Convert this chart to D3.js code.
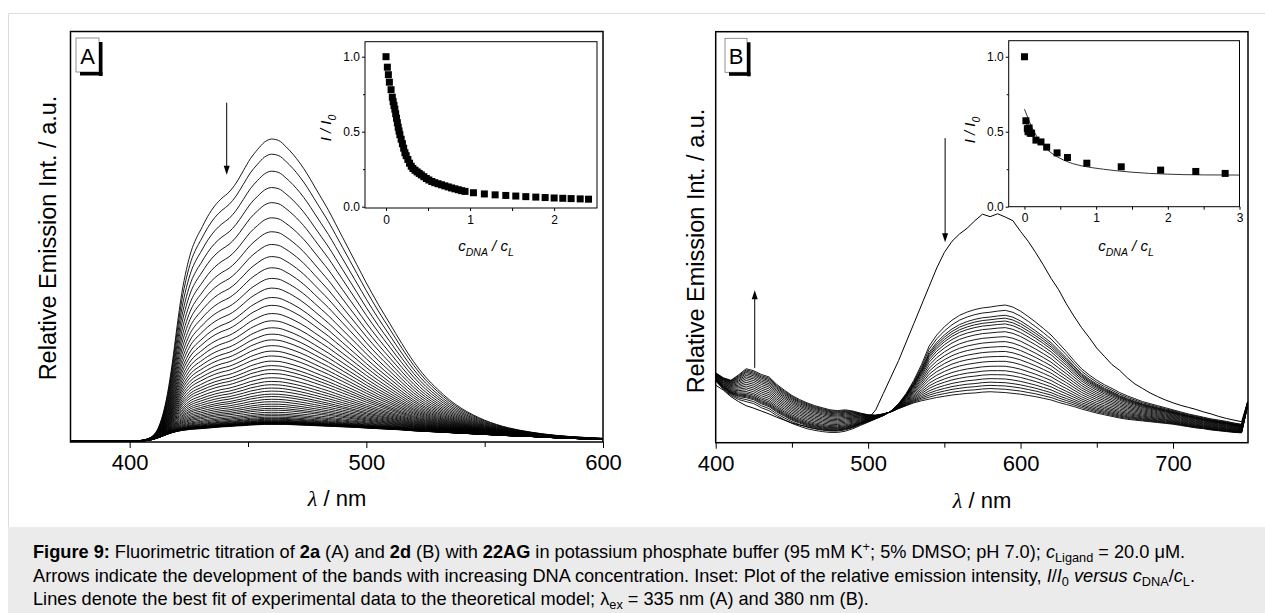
<!DOCTYPE html>
<html><head><meta charset="utf-8">
<script src="https://cdn.jsdelivr.net/npm/d3@7"></script>
<style>
body{margin:0;background:#fff;}
svg{display:block;font-family:"Liberation Sans",Arial,sans-serif;}
</style></head><body>
<svg id="chart" width="1265" height="613"></svg>
<script>
// ---------------- Panel A data (2a) ----------------
const waveA = [375,380,385,390,395,400,403,406,408,410,412,414,416,418,420,422,424,426,428,430,433,436,439,442,445,448,451,454,457,460,463,466,469,472,475,478,481,484,487,490,493,496,500,505,510,515,520,525,530,535,540,545,550,555,560,570,580,590,600];
// spectrum before DNA addition (top curve)
const freeA = [0.003,0.003,0.003,0.003,0.003,0.003,0.004,0.007,0.012,0.022,0.045,0.09,0.16,0.26,0.38,0.49,0.57,0.63,0.67,0.70,0.745,0.78,0.805,0.825,0.855,0.895,0.935,0.965,0.99,1.0,0.995,0.975,0.95,0.92,0.885,0.845,0.805,0.765,0.72,0.675,0.63,0.585,0.525,0.455,0.39,0.325,0.265,0.215,0.175,0.14,0.112,0.09,0.072,0.058,0.047,0.032,0.022,0.016,0.012];
// spectrum at end of titration (lowest curve)
const boundA = [0.003,0.003,0.003,0.003,0.003,0.003,0.003,0.004,0.006,0.009,0.014,0.02,0.026,0.031,0.035,0.038,0.04,0.042,0.043,0.044,0.046,0.048,0.05,0.051,0.053,0.054,0.056,0.057,0.058,0.058,0.058,0.058,0.057,0.056,0.055,0.054,0.053,0.052,0.051,0.05,0.049,0.048,0.046,0.044,0.042,0.04,0.037,0.035,0.033,0.031,0.029,0.027,0.025,0.023,0.021,0.018,0.014,0.011,0.008];
// peak intensity (at 460 nm) of each titration spectrum
const peakA = [1.0,0.95,0.894,0.84,0.79,0.74,0.694,0.652,0.612,0.575,0.54,0.508,0.477,0.451,0.424,0.4,0.377,0.356,0.337,0.318,0.3,0.284,0.267,0.252,0.239,0.226,0.212,0.2,0.189,0.178,0.168,0.158,0.15,0.141,0.133,0.125,0.118,0.111,0.105,0.098,0.092,0.087,0.082,0.078,0.075,0.072,0.07,0.068,0.066,0.065,0.064,0.063,0.062,0.061,0.06,0.059,0.058];
// inset A: I/I0 vs cDNA/cL
const insetAx = [0,0.016,0.028,0.04,0.06,0.075,0.085,0.095,0.105,0.115,0.125,0.135,0.145,0.155,0.165,0.18,0.195,0.21,0.225,0.24,0.26,0.28,0.3,0.32,0.345,0.37,0.395,0.42,0.45,0.48,0.51,0.545,0.58,0.62,0.66,0.7,0.74,0.78,0.82,0.86,0.9,0.94,1.04,1.17,1.298,1.425,1.544,1.663,1.782,1.893,2.0,2.103,2.202,2.31,2.409];
const insetAy = [1.0,0.93,0.88,0.83,0.78,0.73,0.7,0.675,0.65,0.62,0.59,0.56,0.53,0.505,0.48,0.45,0.42,0.39,0.36,0.34,0.315,0.29,0.27,0.255,0.243,0.232,0.222,0.212,0.2,0.188,0.178,0.168,0.16,0.153,0.146,0.139,0.132,0.125,0.119,0.113,0.107,0.102,0.093,0.085,0.079,0.075,0.071,0.067,0.064,0.061,0.058,0.056,0.054,0.052,0.05];

// ---------------- Panel B data (2d) ----------------
const waveB = [400,405,410,415,420,425,430,435,440,445,450,455,460,465,470,475,480,485,490,495,500,505,510,515,520,525,530,535,540,545,550,555,560,565,570,575,580,585,590,595,600,605,610,615,620,625,630,635,640,645,650,655,660,665,670,675,680,685,690,695,700,705,710,715,720,725,730,735,740,745,749];
const freeB = [0.14,0.128,0.112,0.1,0.09,0.084,0.077,0.07,0.062,0.055,0.048,0.043,0.039,0.035,0.032,0.03,0.03,0.033,0.038,0.046,0.058,0.08,0.12,0.16,0.2,0.245,0.29,0.335,0.38,0.425,0.463,0.49,0.508,0.522,0.54,0.556,0.55,0.557,0.549,0.54,0.514,0.49,0.462,0.432,0.4,0.372,0.338,0.308,0.28,0.256,0.23,0.21,0.19,0.176,0.158,0.143,0.132,0.121,0.112,0.104,0.097,0.091,0.086,0.081,0.075,0.07,0.064,0.059,0.055,0.051,0.1];
const earlyB = [0.15,0.13,0.115,0.105,0.1,0.095,0.085,0.078,0.066,0.056,0.047,0.04,0.034,0.03,0.027,0.025,0.025,0.028,0.034,0.042,0.05,0.058,0.066,0.077,0.095,0.12,0.152,0.19,0.235,0.262,0.282,0.298,0.31,0.318,0.324,0.328,0.33,0.333,0.335,0.33,0.32,0.307,0.293,0.278,0.262,0.242,0.222,0.2,0.18,0.165,0.152,0.141,0.132,0.122,0.114,0.107,0.1,0.095,0.09,0.085,0.08,0.075,0.07,0.066,0.062,0.058,0.055,0.052,0.048,0.045,0.1];
const lateB = [0.17,0.158,0.152,0.165,0.18,0.175,0.166,0.16,0.142,0.128,0.115,0.105,0.097,0.09,0.085,0.08,0.078,0.08,0.077,0.072,0.068,0.067,0.07,0.075,0.083,0.09,0.097,0.102,0.106,0.11,0.113,0.116,0.118,0.12,0.121,0.123,0.124,0.123,0.122,0.12,0.118,0.115,0.112,0.108,0.104,0.098,0.093,0.088,0.082,0.077,0.072,0.068,0.064,0.06,0.057,0.055,0.053,0.051,0.049,0.047,0.045,0.042,0.039,0.036,0.034,0.031,0.029,0.027,0.025,0.024,0.09];
// intensity at 590 nm of each DNA-containing spectrum
const peakB = [0.335,0.322,0.31,0.303,0.296,0.289,0.28,0.27,0.258,0.246,0.234,0.222,0.21,0.198,0.186,0.175,0.165,0.155,0.146,0.138,0.13,0.122];
// inset B
const insetBx = [0.0,0.02,0.04,0.05,0.065,0.08,0.1,0.16,0.23,0.31,0.455,0.6,0.87,1.35,1.9,2.39,2.8];
const insetBy = [1.0,0.573,0.52,0.5,0.525,0.49,0.49,0.444,0.432,0.397,0.359,0.328,0.29,0.266,0.244,0.235,0.222];
const fitBx = [0,0.05,0.103,0.17,0.244,0.33,0.431,0.55,0.666,0.8,0.947,1.1,1.275,1.5,1.744,2.0,2.213,2.5,3.0];
const fitBy = [0.65,0.59,0.528,0.47,0.417,0.375,0.339,0.31,0.288,0.272,0.26,0.25,0.24,0.23,0.222,0.217,0.214,0.212,0.211];

// axis tick values
const ticksA = [400,500,600], minorA = [450,550];
const ticksB = [400,500,600,700], minorB = [450,550,650];

const FONT = '"Liberation Sans",Arial,sans-serif';
const svg = d3.select("#chart");

// ---------- page frame & caption background ----------
svg.append("rect").attr("width",1265).attr("height",613).attr("fill","#fff");
svg.append("path").attr("d","M8.5,527 V13.5 H1265").attr("fill","none").attr("stroke","#dcdcdc").attr("stroke-width",1);
svg.append("rect").attr("x",8).attr("y",527).attr("width",1257).attr("height",86).attr("fill","#ebebeb");

function richText(parent,x,y,segs,fs,opts){
  opts=opts||{};
  const subK=opts.subK||0.32;
  const t=parent.append("text").attr("x",x).attr("y",y).attr("font-size",fs).attr("fill","#000")
    .attr("font-family",FONT).attr("text-anchor",opts.anchor||"start");
  if(opts.italic) t.attr("font-style","italic");
  let shift=0;
  segs.forEach(s=>{
    const sp=t.append("tspan").text(s.t);
    const target=s.sub?fs*subK:(s.sup?-fs*0.38:0);
    if(target!==shift){sp.attr("dy",target-shift);shift=target;}
    if(s.sub||s.sup) sp.attr("font-size",fs*0.7);
    if(s.b) sp.attr("font-weight","bold");
    if(s.i) sp.attr("font-style","italic");
    if(s.f) sp.attr("font-family",s.f);
  });
  return t;
}

function styleAxis(sel,fs){
  sel.select(".domain").remove();
  sel.selectAll(".tick line").attr("stroke","#000").attr("stroke-width",1);
  sel.selectAll(".tick text").attr("font-size",fs).attr("font-family",FONT).attr("fill","#000");
}

function arrow(g,x,y1,y2){
  const dir = y2>y1?1:-1;
  g.append("line").attr("x1",x).attr("x2",x).attr("y1",y1).attr("y2",y2-dir*6).attr("stroke","#000").attr("stroke-width",1);
  g.append("path").attr("d",`M${x},${y2} L${x-3},${y2-dir*9} L${x+3},${y2-dir*9} Z`).attr("fill","#000");
}

function labelBox(x0,y0,w,h,txt){
  svg.append("rect").attr("x",x0).attr("y",y0).attr("width",w).attr("height",h).attr("fill","#fff").attr("stroke","#777").attr("stroke-width",0.8);
  svg.append("rect").attr("x",x0+w).attr("y",y0+4).attr("width",3.5).attr("height",h).attr("fill","#000");
  svg.append("rect").attr("x",x0+4).attr("y",y0+h).attr("width",w-0.5).attr("height",3.5).attr("fill","#000");
  svg.append("text").attr("x",x0+w/2).attr("y",y0+25.5).attr("text-anchor","middle").attr("font-size",22).attr("font-family",FONT).text(txt);
}

// ================= PANEL A =================
const xA=d3.scaleLinear().domain([375,600]).range([70.5,603]);
const yA=d3.scaleLinear().domain([0,1.355]).range([442,31.5]);
svg.append("clipPath").attr("id","clipA").append("rect").attr("x",70.5).attr("y",31.5).attr("width",532.5).attr("height",410.5);
const gA=svg.append("g").attr("clip-path","url(#clipA)");
const lineA=d3.line().x((d,i)=>xA(waveA[i])).y(d=>yA(d)).curve(d3.curveMonotoneX);
const boundPeakA=d3.max(boundA), freePeakA=d3.max(freeA);
peakA.forEach(p=>{
  const a=(p-boundPeakA)/(freePeakA-boundPeakA);
  const vals=freeA.map((f,i)=>a*f+(1-a)*boundA[i]);
  gA.append("path").attr("d",lineA(vals)).attr("fill","none").attr("stroke","#000").attr("stroke-width",0.9);
});
svg.append("g").attr("transform","translate(0,442)").call(d3.axisBottom(xA).tickValues(ticksA).tickSize(6).tickPadding(6).tickFormat(d3.format("d"))).call(s=>styleAxis(s,22));
svg.append("g").attr("transform","translate(0,442)").call(d3.axisBottom(xA).tickValues(minorA).tickSize(5).tickFormat("")).call(s=>styleAxis(s,22));
svg.append("rect").attr("x",70.5).attr("y",31.5).attr("width",532.5).attr("height",410.5).attr("fill","none").attr("stroke","#000").attr("stroke-width",1.5);
svg.append("text").attr("transform","translate(56,238) rotate(-90)").attr("text-anchor","middle").attr("font-size",23.5).attr("font-family",FONT).text("Relative Emission Int. / a.u.");
richText(svg,337,506,[{t:"λ",i:1,f:'"Liberation Serif",serif'},{t:" / nm"}],22,{anchor:"middle"});
arrow(svg,xA(441),yA(1.12),yA(0.882));
labelBox(76,38,23,34,"A");

// inset A
const ixA=d3.scaleLinear().domain([-0.25,2.51]).range([365,597]);
const iyA=d3.scaleLinear().domain([-0.0087,1.1]).range([208,41.7]);
svg.append("rect").attr("x",365).attr("y",41.7).attr("width",232).attr("height",166.3).attr("fill","#fff");
svg.append("g").attr("transform","translate(0,208)").call(d3.axisBottom(ixA).tickValues([0,1,2]).tickSize(3).tickPadding(4).tickFormat(d3.format("d"))).call(s=>styleAxis(s,12));
svg.append("g").attr("transform","translate(0,208)").call(d3.axisBottom(ixA).tickValues([0.5,1.5]).tickSize(3).tickFormat("")).call(s=>styleAxis(s,12));
svg.append("g").attr("transform","translate(365,0)").call(d3.axisLeft(iyA).tickValues([0,0.5,1]).tickSize(3).tickPadding(2).tickFormat(d3.format(".1f"))).call(s=>styleAxis(s,12));
svg.append("g").attr("transform","translate(365,0)").call(d3.axisLeft(iyA).tickValues([0.25,0.75]).tickSize(2).tickFormat("")).call(s=>styleAxis(s,12));
svg.append("g").selectAll("rect").data(insetAx).join("rect")
  .attr("x",(d)=>ixA(d)-3.5).attr("y",(d,i)=>iyA(insetAy[i])-3.5).attr("width",7).attr("height",7).attr("fill","#000");
svg.append("rect").attr("x",365).attr("y",41.7).attr("width",232).attr("height",166.3).attr("fill","none").attr("stroke","#000").attr("stroke-width",1);
richText(svg,486,251,[{t:"c"},{t:"DNA",sub:1},{t:" / c"},{t:"L",sub:1}],15,{anchor:"middle",italic:true});
richText(svg.append("g").attr("transform","translate(331,128) rotate(-90)"),0,0,[{t:"I / I"},{t:"0",sub:1}],15,{anchor:"middle",italic:true});

// ================= PANEL B =================
const xB=d3.scaleLinear().domain([400,749.2]).range([715.7,1248]);
const yB=d3.scaleLinear().domain([0,1]).range([442.7,31.7]);
svg.append("clipPath").attr("id","clipB").append("rect").attr("x",715.7).attr("y",31.7).attr("width",532.3).attr("height",411);
const gB=svg.append("g").attr("clip-path","url(#clipB)");
const lineB=d3.line().x((d,i)=>xB(waveB[i])).y(d=>yB(d));
const iRef=waveB.indexOf(590);
const pE=earlyB[iRef], pL=lateB[iRef];
peakB.forEach(p=>{
  const b=(p-pL)/(pE-pL);
  const vals=earlyB.map((e,i)=>b*e+(1-b)*lateB[i]);
  gB.append("path").attr("d",lineB(vals)).attr("fill","none").attr("stroke","#000").attr("stroke-width",0.9);
});
gB.append("path").attr("d",lineB(freeB)).attr("fill","none").attr("stroke","#000").attr("stroke-width",1);
svg.append("g").attr("transform","translate(0,442.7)").call(d3.axisBottom(xB).tickValues(ticksB).tickSize(6).tickPadding(7).tickFormat(d3.format("d"))).call(s=>styleAxis(s,22));
svg.append("g").attr("transform","translate(0,442.7)").call(d3.axisBottom(xB).tickValues(minorB).tickSize(5).tickFormat("")).call(s=>styleAxis(s,22));
svg.append("rect").attr("x",715.7).attr("y",31.7).attr("width",532.3).attr("height",411).attr("fill","none").attr("stroke","#000").attr("stroke-width",1.5);
svg.append("text").attr("transform","translate(704,251) rotate(-90)").attr("text-anchor","middle").attr("font-size",23.5).attr("font-family",FONT).text("Relative Emission Int. / a.u.");
richText(svg,982,508,[{t:"λ",i:1,f:'"Liberation Serif",serif'},{t:" / nm"}],22,{anchor:"middle"});
arrow(svg,xB(550.5),yB(0.741),yB(0.488));
arrow(svg,xB(425.6),yB(0.182),yB(0.371));
labelBox(725,38.3,22,34,"B");

// inset B
const ixB=d3.scaleLinear().domain([-0.22,3.0]).range([1008.7,1239.5]);
const iyB=d3.scaleLinear().domain([0,1.107]).range([206.7,40.7]);
svg.append("rect").attr("x",1008.7).attr("y",40.7).attr("width",230.8).attr("height",166).attr("fill","#fff");
svg.append("g").attr("transform","translate(0,206.7)").call(d3.axisBottom(ixB).tickValues([0,1,2,3]).tickSize(3).tickPadding(4).tickFormat(d3.format("d"))).call(s=>styleAxis(s,12));
svg.append("g").attr("transform","translate(0,206.7)").call(d3.axisBottom(ixB).tickValues([0.5,1.5,2.5]).tickSize(3).tickFormat("")).call(s=>styleAxis(s,12));
svg.append("g").attr("transform","translate(1008.7,0)").call(d3.axisLeft(iyB).tickValues([0,0.5,1]).tickSize(3).tickPadding(2).tickFormat(d3.format(".1f"))).call(s=>styleAxis(s,12));
svg.append("g").attr("transform","translate(1008.7,0)").call(d3.axisLeft(iyB).tickValues([0.25,0.75]).tickSize(2).tickFormat("")).call(s=>styleAxis(s,12));
svg.append("path").attr("d",d3.line().x((d,i)=>ixB(d)).y((d,i)=>iyB(fitBy[i]))(fitBx)).attr("fill","none").attr("stroke","#333").attr("stroke-width",1);
svg.append("g").selectAll("rect").data(insetBx).join("rect")
  .attr("x",(d)=>ixB(d)-3.5).attr("y",(d,i)=>iyB(insetBy[i])-3.5).attr("width",7).attr("height",7).attr("fill","#000");
svg.append("rect").attr("x",1008.7).attr("y",40.7).attr("width",230.8).attr("height",166).attr("fill","none").attr("stroke","#000").attr("stroke-width",1);
richText(svg,1126,251,[{t:"c"},{t:"DNA",sub:1},{t:" / c"},{t:"L",sub:1}],15,{anchor:"middle",italic:true});
richText(svg.append("g").attr("transform","translate(975,130) rotate(-90)"),0,0,[{t:"I / I"},{t:"0",sub:1}],15,{anchor:"middle",italic:true});

// ================= CAPTION =================
const capFs=18.2, capX=33, capOpt={subK:0.2};
richText(svg,capX,558,[{t:"Figure 9:",b:1},{t:" Fluorimetric titration of "},{t:"2a",b:1},{t:" (A) and "},{t:"2d",b:1},{t:" (B) with "},{t:"22AG",b:1},{t:" in potassium phosphate buffer (95 mM K"},{t:"+",sup:1},{t:"; 5% DMSO; pH 7.0); "},{t:"c",i:1},{t:"Ligand",sub:1},{t:" = 20.0 μM."}],capFs,capOpt);
richText(svg,capX,582,[{t:"Arrows indicate the development of the bands with increasing DNA concentration. Inset: Plot of the relative emission intensity, "},{t:"I",i:1},{t:"/"},{t:"I",i:1},{t:"0",sub:1},{t:" "},{t:"versus",i:1},{t:" "},{t:"c",i:1},{t:"DNA",sub:1},{t:"/"},{t:"c",i:1},{t:"L",sub:1},{t:"."}],capFs,capOpt);
richText(svg,capX,605,[{t:"Lines denote the best fit of experimental data to the theoretical model; λ"},{t:"ex",sub:1},{t:" = 335 nm (A) and 380 nm (B)."}],capFs,capOpt);
</script>
</body></html>
